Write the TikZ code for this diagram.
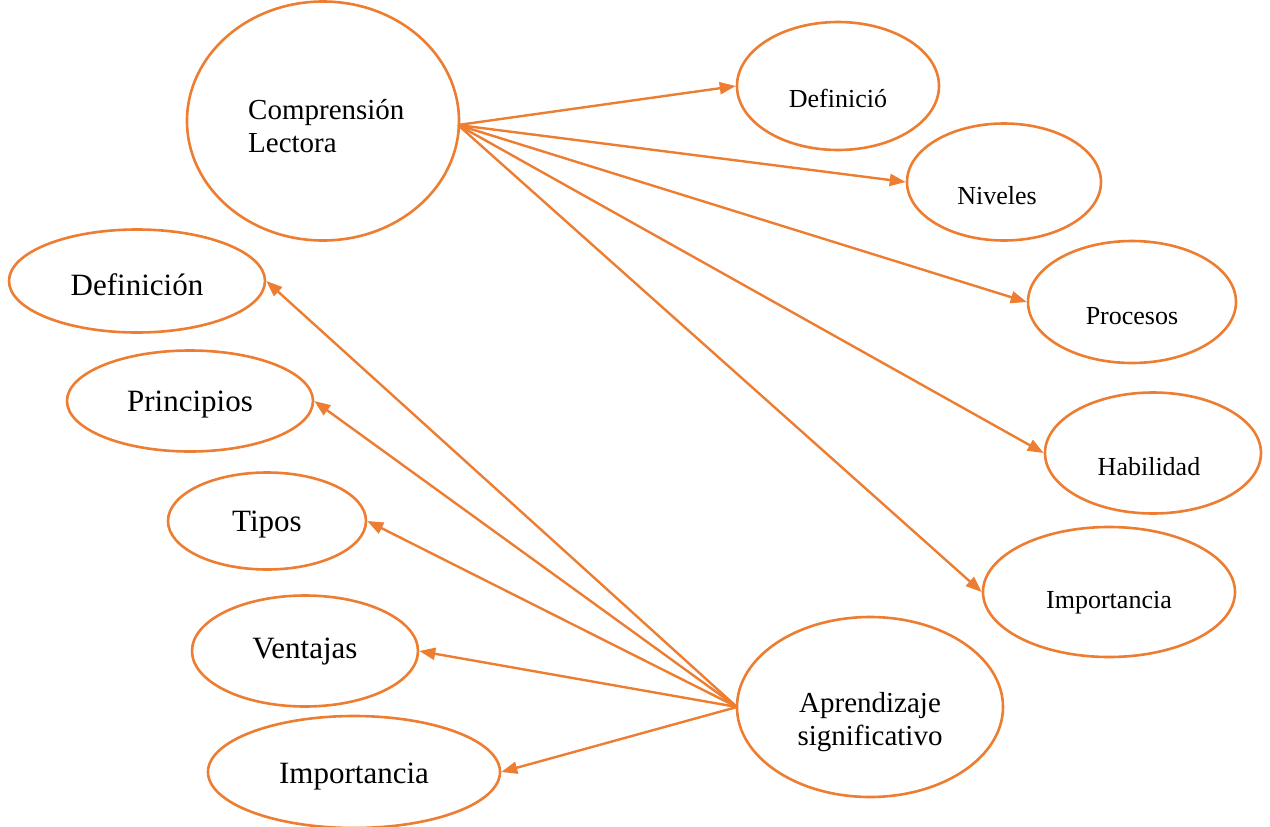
\documentclass[tikz,border=0pt]{standalone}
\usepackage{fontspec}
\setmainfont{Liberation Serif}
\usetikzlibrary{shapes.geometric,arrows.meta}
\definecolor{orng}{HTML}{ED7D31}
\tikzset{
  oval/.style={draw=orng, line width=2.6pt, ellipse, inner sep=0pt, fill=white},
  lbl/.style={inner sep=0pt, text=black},
  big/.style={lbl, font=\fontsize{31}{35}\selectfont},
  small/.style={lbl, font=\fontsize{26}{30}\selectfont},
  mid/.style={lbl, font=\fontsize{29}{33}\selectfont},
  conn/.style={draw=orng, line width=2.4pt, -{Triangle[length=16pt,width=12pt]}}
}
\begin{document}
\begin{tikzpicture}[x=1pt,y=-1pt]
\useasboundingbox (0,0) rectangle (1270,827);
% ellipses
\node[oval, minimum width=272pt, minimum height=239pt] (cl) at (323,121) {};
\node[oval, minimum width=202pt, minimum height=128pt] (r1) at (838,86) {};
\node[oval, minimum width=194pt, minimum height=117pt] (r2) at (1004,182) {};
\node[oval, minimum width=208pt, minimum height=122pt] (r3) at (1132,302) {};
\node[oval, minimum width=216pt, minimum height=121pt] (r4) at (1153,453) {};
\node[oval, minimum width=252pt, minimum height=130pt] (r5) at (1109,592) {};
\node[oval, minimum width=266pt, minimum height=180pt] (ap) at (870,707) {};
\node[oval, minimum width=256pt, minimum height=103pt] (l1) at (137,281) {};
\node[oval, minimum width=246pt, minimum height=101pt] (l2) at (190,401) {};
\node[oval, minimum width=198pt, minimum height=97pt] (l3) at (267,521) {};
\node[oval, minimum width=226pt, minimum height=111pt] (l4) at (305,651) {};
\node[oval, minimum width=292pt, minimum height=112pt] (l5) at (354,772) {};
% texts
\node[mid, align=left, anchor=base west] (clt) at (248,152) {Comprensión\\Lectora};
\node[small] (r1t) at (838,98) {Definició};
\node[small] (r2t) at (997,196) {Niveles};
\node[small] (r3t) at (1132,316) {Procesos};
\node[small] (r4t) at (1149,467) {Habilidad};
\node[small] (r5t) at (1109,603) {Importancia};
\node[mid, align=center, anchor=base] (apt) at (870,745) {Aprendizaje\\significativo};
\node[big] (l1t) at (137,285) {Definición};
\node[big] (l2t) at (190,405) {Principios};
\node[big] (l3t) at (267,525) {Tipos};
\node[big] (l4t) at (305,652) {Ventajas};
\node[big] (l5t) at (354,777) {Importancia};
% connectors
\coordinate (cs) at (458,125);
\coordinate (as) at (737,707);
\draw[conn] (cs) -- (r1.west);
\draw[conn] (cs) -- (r2.west);
\draw[conn] (cs) -- (r3.west);
\draw[conn] (cs) -- (r4.west);
\draw[conn] (cs) -- (r5.west);
\draw[conn] (as) -- (l1.east);
\draw[conn] (as) -- (l2.east);
\draw[conn] (as) -- (l3.east);
\draw[conn] (as) -- (l4.east);
\draw[conn] (as) -- (l5.east);
\end{tikzpicture}
\end{document}
